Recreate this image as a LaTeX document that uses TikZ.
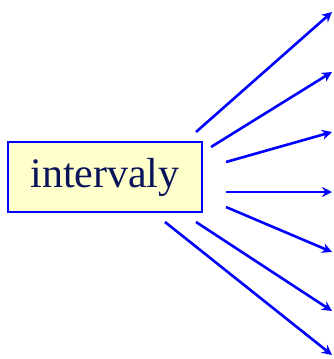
\documentclass[tikz,border=0pt]{standalone}
\usepackage{fontspec}
\setmainfont{Liberation Serif}
\usetikzlibrary{arrows.meta}
\definecolor{boxfill}{RGB}{255,255,204}
\definecolor{navy}{RGB}{10,20,90}
\tikzset{
	ray/.style={->,line width=2.6pt,color=blue},
}
\begin{document}
\begin{tikzpicture}[x=1pt,y=-1pt,>={Stealth[length=10pt,width=10pt]}]
		\useasboundingbox (0,0) rectangle (334,359);
		\node[draw=blue,line width=2.6pt,fill=boxfill,text=navy,minimum width=194pt,minimum height=70pt,inner sep=0pt,font=\fontsize{42}{42}\selectfont] (iv) at (105,177) {intervaly};
		% start and end points of the rays
		\foreach \i/\sx/\sy/\ex/\ey in {1/196/132/332/12,2/211/147/332/72,3/226/162/332/132,4/226/192/332/192,5/226/207/332/252,6/196/222/332/311,7/165/222/332/355}{
			\coordinate (s\i) at (\sx,\sy);
			\coordinate (e\i) at (\ex,\ey);
			\draw[ray] (s\i)--(e\i);
		}
	\end{tikzpicture}
\end{document}
